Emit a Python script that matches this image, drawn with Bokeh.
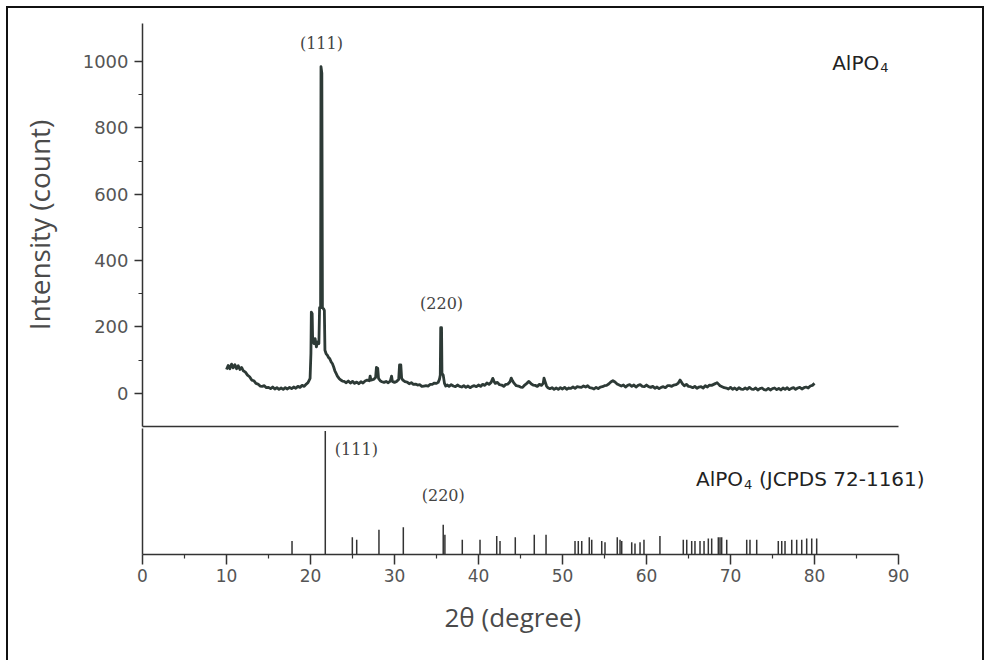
from bokeh.plotting import figure
from bokeh.layouts import column
from bokeh.models import FixedTicker, LinearAxis, Range1d, Label, Title
from bokeh.embed import file_html
from bokeh.resources import INLINE
from bokeh.core.properties import value

# ---------------- data ----------------
two_theta = [
    10.0, 10.2, 10.4, 10.6, 10.8, 11.0, 11.2, 11.4, 11.6, 11.8,
    12.0, 12.25, 12.5, 12.75, 13.0, 13.25, 13.5, 13.75, 14.0, 14.25,
    14.5, 14.75, 15.0, 15.25, 15.5, 15.75, 16.0, 16.25, 16.5, 16.75,
    17.0, 17.25, 17.5, 17.75, 18.0, 18.25, 18.5, 18.75, 19.0, 19.25,
    19.5, 19.7, 19.85, 19.95, 20.05, 20.1, 20.2, 20.25, 20.4, 20.55,
    20.7, 20.85, 21.0, 21.08, 21.2, 21.25, 21.35, 21.42, 21.55, 21.65,
    21.72, 21.85, 22.0, 22.15, 22.3, 22.45, 22.6, 22.75, 22.9, 23.05,
    23.2, 23.4, 23.6, 23.8, 24.0, 24.25, 24.5, 24.75, 25.0, 25.25,
    25.5, 25.75, 26.0, 26.25, 26.5, 26.75, 27.0, 27.1, 27.2, 27.5,
    27.75, 27.85, 28.0, 28.1, 28.3, 28.5, 28.75, 29.0, 29.25, 29.5,
    29.65, 29.75, 30.0, 30.25, 30.5, 30.6, 30.75, 30.85, 31.0, 31.25,
    31.5, 31.75, 32.0, 32.25, 32.5, 32.75, 33.0, 33.25, 33.5, 33.75,
    34.0, 34.25, 34.5, 34.75, 35.0, 35.2, 35.35, 35.45, 35.5, 35.6,
    35.65, 35.8, 35.95, 36.1, 36.3, 36.5, 36.75, 37.0, 37.25, 37.5,
    37.75, 38.0, 38.25, 38.5, 38.75, 39.0, 39.25, 39.5, 39.75, 40.0,
    40.25, 40.5, 40.75, 41.0, 41.25, 41.5, 41.7, 41.85, 42.0, 42.25,
    42.5, 42.75, 43.0, 43.25, 43.5, 43.75, 43.9, 44.05, 44.25, 44.5,
    44.75, 45.0, 45.25, 45.5, 45.75, 46.0, 46.15, 46.3, 46.5, 46.75,
    47.0, 47.25, 47.5, 47.7, 47.8, 47.95, 48.1, 48.25, 48.5, 48.75,
    49.0, 49.25, 49.5, 49.75, 50.0, 50.25, 50.5, 50.75, 51.0, 51.25,
    51.5, 51.75, 52.0, 52.25, 52.5, 52.75, 53.0, 53.25, 53.5, 53.75,
    54.0, 54.25, 54.5, 54.75, 55.0, 55.25, 55.5, 55.75, 56.0, 56.25,
    56.5, 56.75, 57.0, 57.25, 57.5, 57.75, 58.0, 58.25, 58.5, 58.75,
    59.0, 59.25, 59.5, 59.75, 60.0, 60.25, 60.5, 60.75, 61.0, 61.25,
    61.5, 61.75, 62.0, 62.25, 62.5, 62.75, 63.0, 63.25, 63.5, 63.75,
    64.0, 64.15, 64.3, 64.5, 64.75, 65.0, 65.25, 65.5, 65.75, 66.0,
    66.25, 66.5, 66.75, 67.0, 67.25, 67.5, 67.75, 68.0, 68.25, 68.4,
    68.6, 68.75, 69.0, 69.25, 69.5, 69.75, 70.0, 70.25, 70.5, 70.75,
    71.0, 71.25, 71.5, 71.75, 72.0, 72.25, 72.5, 72.75, 73.0, 73.25,
    73.5, 73.75, 74.0, 74.25, 74.5, 74.75, 75.0, 75.25, 75.5, 75.75,
    76.0, 76.25, 76.5, 76.75, 77.0, 77.25, 77.5, 77.75, 78.0, 78.25,
    78.5, 78.75, 79.0, 79.25, 79.5, 79.75, 80.0,
]
intensity = [
    72, 84, 74, 88, 77, 86, 74, 83, 72, 78,
    68, 64, 55, 50, 40, 38, 30, 28, 22, 21,
    23, 17, 18, 14, 19, 13, 17, 12, 16, 12,
    17, 13, 18, 14, 19, 15, 21, 18, 24, 21,
    28, 32, 40, 45, 120, 245, 240, 170, 150, 165,
    140, 155, 150, 258, 258, 985, 965, 258, 255, 250,
    130, 120, 115, 108, 104, 95, 90, 80, 68, 60,
    52, 45, 40, 37, 36, 32, 37, 31, 36, 30,
    34, 29, 35, 31, 37, 40, 38, 52, 40, 42,
    48, 78, 76, 45, 38, 35, 33, 36, 32, 37,
    52, 36, 33, 36, 42, 86, 86, 45, 40, 35,
    34, 29, 32, 27, 28, 25, 26, 21, 22, 23,
    22, 27, 27, 31, 30, 33, 42, 55, 198, 198,
    60, 55, 30, 22, 25, 21, 26, 22, 20, 25,
    21, 19, 23, 18, 22, 17, 21, 23, 20, 25,
    21, 27, 24, 31, 27, 33, 45, 36, 30, 33,
    26, 25, 21, 27, 28, 35, 46, 38, 30, 23,
    22, 19, 18, 25, 30, 36, 32, 28, 25, 24,
    21, 27, 24, 30, 46, 34, 22, 17, 14, 17,
    12, 16, 12, 17, 13, 18, 12, 16, 15, 19,
    15, 20, 19, 18, 22, 19, 23, 17, 16, 13,
    18, 14, 19, 20, 23, 24, 28, 34, 38, 34,
    28, 25, 22, 25, 19, 24, 26, 21, 25, 19,
    24, 26, 21, 20, 25, 20, 18, 21, 15, 19,
    14, 18, 20, 17, 23, 23, 21, 25, 26, 30,
    40, 34, 28, 23, 27, 21, 20, 17, 21, 15,
    19, 20, 16, 23, 19, 25, 24, 27, 30, 32,
    27, 23, 20, 17, 16, 13, 18, 12, 16, 11,
    17, 13, 12, 16, 12, 18, 13, 12, 16, 10,
    14, 16, 11, 10, 15, 10, 14, 16, 11, 15,
    10, 16, 12, 17, 11, 15, 17, 12, 16, 18,
    13, 17, 19, 16, 22, 24, 30,
]

# JCPDS 72-1161 reference pattern (relative intensity, %)
ref_two_theta = [
    17.8, 21.76, 24.98, 25.5, 28.15, 31.05, 35.8, 36.0, 38.07, 40.18,
    42.17, 42.56, 44.38, 46.64, 48.04, 51.49, 51.88, 52.29, 53.19, 53.48,
    54.67, 55.06, 56.52, 56.85, 57.05, 58.24, 58.63, 59.23, 59.7, 61.6,
    64.38, 64.79, 65.38, 65.77, 66.37, 66.85, 67.36, 67.76, 68.55, 68.75,
    68.95, 69.55, 71.93, 72.32, 73.12, 75.69, 76.1, 76.49, 77.29, 77.88,
    78.48, 79.07, 79.67, 80.26,
]
ref_intensity = [
    11, 100, 14, 12, 20, 22, 24, 16, 12, 12,
    15, 11, 14, 16, 16, 11, 11, 11, 14, 12,
    11, 10, 14, 12, 11, 10, 9, 10, 12, 15,
    12, 12, 11, 11, 11, 11, 13, 13, 14, 14,
    14, 12, 12, 12, 12, 11, 11, 11, 12, 12,
    12, 13, 13, 13,
]

x_ticks = [0, 10, 20, 30, 40, 50, 60, 70, 80, 90]
x_minor_ticks = [5, 15, 25, 35, 45, 55, 65, 75, 85]
y_ticks = [0, 200, 400, 600, 800, 1000]
y_minor_ticks = [100, 300, 500, 700, 900]
x_axis_extent = (0, 90)

# ---------------- styles ----------------
W = 974
LEFT = 134
RIGHT = 42
AXIS_COLOR = "#333333"
LINE_COLOR = "#2d3a36"
TICK_FONT = "DejaVu Sans"
LABEL_FONT = "Open Sans"
PEAK_FONT = "DejaVu Serif"
NAME_FONT = "DejaVu Sans"

# frame extends a little past 90 so that the right-hand labels are not clipped
x_range = Range1d(0, 95)

# ---------------- upper panel ----------------
top = figure(width=W, height=420, x_range=x_range, y_range=Range1d(-100, 1115),
             output_backend="svg", toolbar_location=None,
             min_border_left=LEFT, min_border_right=RIGHT,
             min_border_top=15, min_border_bottom=2,
             x_axis_location=None, y_axis_location=None)
top.outline_line_color = None
top.grid.visible = False

ya = LinearAxis(ticker=FixedTicker(ticks=y_ticks, minor_ticks=y_minor_ticks),
                axis_label="Intensity (count)")
ya.axis_line_color = AXIS_COLOR
ya.axis_line_width = 1.5
ya.major_tick_line_color = AXIS_COLOR
ya.major_tick_line_width = 1.5
ya.minor_tick_line_color = AXIS_COLOR
ya.minor_tick_line_width = 1.2
ya.major_tick_in = 0
ya.major_tick_out = 8
ya.minor_tick_in = 0
ya.minor_tick_out = 4
ya.major_label_standoff = 6
ya.major_label_text_font = TICK_FONT
ya.major_label_text_font_size = "18px"
ya.major_label_text_color = "#555555"
ya.axis_label_text_font = LABEL_FONT
ya.axis_label_text_font_size = "28px"
ya.axis_label_text_font_style = "normal"
ya.axis_label_text_color = "#4a4a4a"
ya.axis_label_standoff = 22
top.add_layout(ya, "left")

# divider line between the two panels
div_axis = LinearAxis(ticker=FixedTicker(ticks=[]), bounds=x_axis_extent)
div_axis.axis_line_color = AXIS_COLOR
div_axis.axis_line_width = 1.5
div_axis.major_tick_out = 0
div_axis.minor_tick_out = 0
div_axis.major_label_standoff = 0
top.add_layout(div_axis, "below")

top.line(x=two_theta, y=intensity, line_color=LINE_COLOR, line_width=2.8,
         line_join="round")

top.text(x=[21.3], y=[1055], text=["(111)"], text_font=value(PEAK_FONT),
         text_font_size="16px", text_align="center", text_baseline="middle",
         text_color="#444444")
top.text(x=[35.6], y=[271], text=["(220)"], text_font=value(PEAK_FONT),
         text_font_size="16px", text_align="center", text_baseline="middle",
         text_color="#444444")
top.add_layout(Label(x=82.1, y=997, text="AlPO", text_font=NAME_FONT,
                     text_font_size="20px", text_align="left",
                     text_baseline="alphabetic", text_color="#222222"))
top.add_layout(Label(x=82.1, y=982, text="4", text_font=NAME_FONT,
                     text_font_size="13px", text_align="left", x_offset=48,
                     text_baseline="alphabetic", text_color="#222222"))

# ---------------- lower panel ----------------
bot = figure(width=W, height=232, x_range=x_range, y_range=Range1d(0, 102),
             output_backend="svg", toolbar_location=None,
             min_border_left=LEFT, min_border_right=RIGHT,
             min_border_top=0, min_border_bottom=106,
             x_axis_location=None, y_axis_location=None)
bot.outline_line_color = None
bot.grid.visible = False

xa = LinearAxis(ticker=FixedTicker(ticks=x_ticks, minor_ticks=x_minor_ticks),
                bounds=x_axis_extent)
xa.axis_line_color = AXIS_COLOR
xa.axis_line_width = 1.5
xa.major_tick_line_color = AXIS_COLOR
xa.major_tick_line_width = 1.5
xa.minor_tick_line_color = AXIS_COLOR
xa.minor_tick_line_width = 1.2
xa.major_tick_in = 0
xa.major_tick_out = 10
xa.minor_tick_in = 0
xa.minor_tick_out = 4
xa.major_label_standoff = 4
xa.major_label_text_font = TICK_FONT
xa.major_label_text_font_size = "17px"
xa.major_label_text_color = "#555555"
bot.add_layout(xa, "below")

# x-axis title, centred under the 0-90 axis (not under the wider frame)
xtitle = Title(text="2θ (degree)", align="left", offset=302, standoff=24,
               text_font=LABEL_FONT, text_font_size="26px",
               text_font_style="normal", text_color="#4a4a4a")
bot.add_layout(xtitle, "below")

la = LinearAxis(ticker=FixedTicker(ticks=[]))
la.axis_line_color = AXIS_COLOR
la.axis_line_width = 1.5
la.major_tick_out = 0
la.minor_tick_out = 0
la.major_label_standoff = 0
bot.add_layout(la, "left")

bot.segment(x0=ref_two_theta, y0=[0] * len(ref_two_theta),
            x1=ref_two_theta, y1=ref_intensity,
            line_color="#333333", line_width=1.5)

bot.text(x=[22.9], y=[85], text=["(111)"], text_font=value(PEAK_FONT),
         text_font_size="16px", text_align="left", text_baseline="middle",
         text_color="#444444")
bot.text(x=[35.8], y=[48], text=["(220)"], text_font=value(PEAK_FONT),
         text_font_size="16px", text_align="center", text_baseline="middle",
         text_color="#444444")
bot.add_layout(Label(x=65.9, y=61, text="AlPO", text_font=NAME_FONT,
                     text_font_size="20px", text_align="left",
                     text_baseline="alphabetic", text_color="#222222"))
bot.add_layout(Label(x=65.9, y=57, text="4", text_font=NAME_FONT,
                     text_font_size="13px", text_align="left", x_offset=48,
                     text_baseline="alphabetic", text_color="#222222"))
bot.add_layout(Label(x=65.9, y=61, text="(JCPDS 72-1161)", text_font=NAME_FONT,
                     text_font_size="20px", text_align="left", x_offset=63,
                     text_baseline="alphabetic", text_color="#222222"))

layout = column(top, bot, styles={
    "margin-left": "6px",
    "margin-top": "6px",
    "border-top": "2px solid #111111",
    "border-left": "2px solid #111111",
    "border-right": "2px solid #111111",
    "background-color": "white",
})

open("out.html", "w").write(file_html(layout, INLINE))
